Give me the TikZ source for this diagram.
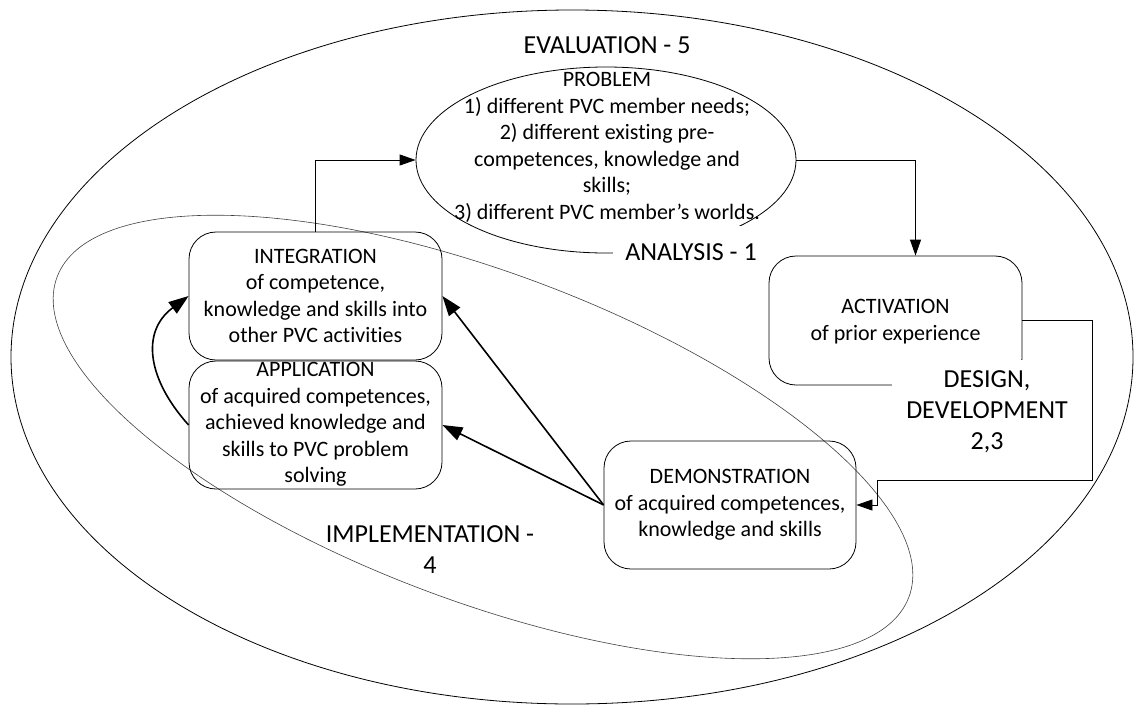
\documentclass[tikz,border=0pt]{standalone}
\usepackage{fontspec}
\setmainfont{Carlito}[Ligatures=NoCommon]
\usetikzlibrary{shapes.geometric,arrows.meta}
\begin{document}
\begin{tikzpicture}[x=1pt,y=-1pt,
  stagebox/.style={draw, rounded corners=27pt, minimum width=253pt, minimum height=128pt, inner sep=0pt, line width=0.8pt},
  body/.style={align=center, font=\fontsize{22}{26.5}\selectfont, inner sep=0pt},
  phase/.style={align=center, font=\fontsize{26}{31}\selectfont, inner sep=0pt},
  flow/.style={line width=0.8pt, -{Triangle[length=16pt,width=11pt]}},
  link/.style={line width=1.6pt, -{Triangle[length=20pt,width=14pt]}}
]
\useasboundingbox (0,0) rectangle (1137,707);

% evaluation: outer ellipse
\node[ellipse, draw, line width=0.8pt, minimum width=1122pt, minimum height=694pt, inner sep=0pt] (evalring) at (572,357) {};

% implementation: tilted ellipse
\draw[line width=0.6pt, draw=black!75, rotate around={-20.6:(483,437)}] (483,437) ellipse [x radius=455, y radius=164];

% problem ellipse
\node[ellipse, draw, line width=0.8pt, minimum width=380pt, minimum height=186pt, inner sep=0pt] (prob) at (606,160) {};
\node[body] (probtxt) at (607,147.5) {PROBLEM\\1) different PVC member needs;\\2) different existing pre-\\competences, knowledge and\\skills;\\3) different PVC member’s worlds.};

% stage boxes
\node[stagebox] (int) at (315.5,296) {};
\node[body] (inttxt) at (int) {INTEGRATION\\of competence,\\knowledge and skills into\\other PVC activities};

\node[stagebox] (app) at (315.5,425) {};
\node[body] (apptxt) at (315.5,424.5) {APPLICATION\\of acquired competences,\\achieved knowledge and\\skills to PVC problem\\solving};

\node[stagebox, minimum height=129pt] (act) at (895.5,320.5) {};
\node[body] (acttxt) at (895.5,321.5) {ACTIVATION\\of prior experience};

\node[stagebox, minimum width=252pt] (demo) at (730,505) {};
\node[body] (demotxt) at (demo) {DEMONSTRATION\\of acquired competences,\\knowledge and skills};

% phase labels
\node[phase] (evallbl) at (607,45) {EVALUATION - 5};
\node[phase, fill=white, minimum width=156pt, minimum height=52pt] (analbl) at (691,252) {ANALYSIS - 1};
\node[phase, fill=white, minimum width=190pt, minimum height=104pt] (deslbl) at (987,412) {DESIGN,\\DEVELOPMENT\\2,3};
\node[phase] (implbl) at (430,550) {IMPLEMENTATION -\\4};

% connectors
\coordinate (actin) at ([xshift=20pt]act.north);
\coordinate (bendA) at (1092,480);
\coordinate (bendB) at (877,480);
\draw[flow] (int.north) |- (prob.west);
\draw[flow] (prob.east) -| (actin);
\draw[flow] (act.east) -| (bendA) -- (bendB) |- (demo.east);
\draw[link] (demo.west) -- (int.east);
\draw[link] (demo.west) -- (app.east);
\draw[link] (app.west) .. controls (148,380) and (140,332) .. (int.west);
\end{tikzpicture}
\end{document}
